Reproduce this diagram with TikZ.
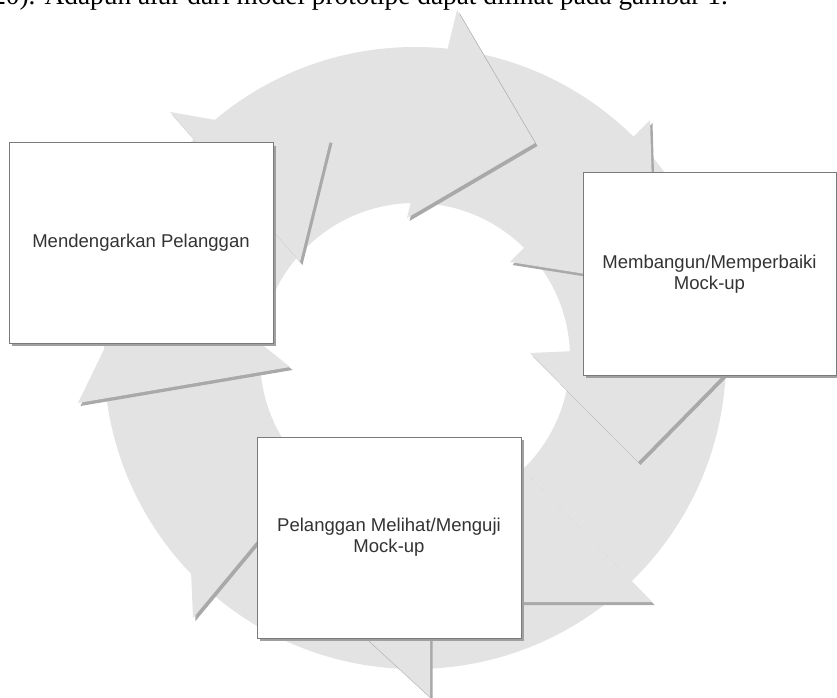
\documentclass[tikz,border=0pt]{standalone}
\usepackage{fontspec}
\setmainfont{Liberation Serif}
\newfontfamily\arialf{Liberation Sans}
\usetikzlibrary{shadows}
\definecolor{ringc}{HTML}{E3E3E3}
\definecolor{hshadow}{HTML}{A9A9A9}
\definecolor{boxline}{HTML}{7A7A7A}
\definecolor{boxshadow}{HTML}{A0A0A0}
\definecolor{txt}{HTML}{333333}
\newcommand\headarrow[3]{%
  \fill[headshadow] #1 -- #2 -- #3 -- cycle;
  \fill[headfill] #1 -- #2 -- #3 -- cycle;}
\begin{document}
\begin{tikzpicture}[x=0.75pt,y=-0.75pt,
  headshadow/.style={fill=hshadow, shift={(2.5,3)}},
  headfill/.style={fill=ringc},
  stepbox/.style={draw=boxline, line width=0.75pt, fill=white, inner sep=0pt,
    align=center, text=txt, font=\arialf\fontsize{13.9pt}{15.75pt}\selectfont,
    drop shadow={shadow xshift=2pt, shadow yshift=-2pt, fill=boxshadow, opacity=1}}]
\useasboundingbox (0,0) rectangle (837,698);
\clip (0,0) rectangle (837,698);
\fill[white] (0,0) rectangle (837,698);
\node[anchor=base west, inner sep=0pt, font=\fontsize{20.5pt}{24pt}\selectfont] (caption) at (-8,5)
  {20). Adapun alur dari model prototipe dapat dilihat pada gambar 1.};
% ring
\coordinate (ctr) at (415,358);
\fill[ringc, even odd rule] (ctr) circle[radius=233.25pt] (ctr) circle[radius=116.25pt];
% arrow heads (outer barb, tip, inner barb)
\headarrow{(457,10)}{(535,143)}{(407,218)}
\headarrow{(650,120)}{(655,285)}{(510,262)}
\headarrow{(755,343)}{(638,462)}{(530,353)}
\headarrow{(652,602)}{(490,602)}{(502,448)}
\headarrow{(430,697)}{(314,590)}{(430,483)}
\headarrow{(193,618)}{(186,452)}{(331,452)}
\headarrow{(78,403)}{(150,255)}{(290,367)}
\headarrow{(170,112)}{(330,140)}{(300,262)}
% boxes
\node[stepbox, minimum width=198pt, minimum height=150pt] (listen) at (141,243) {Mendengarkan Pelanggan};
\node[stepbox, minimum width=189.75pt, minimum height=151.5pt] (build) at (709.5,274) {Membangun/Memperbaiki\\Mock-up};
\node[stepbox, minimum width=198pt, minimum height=150.75pt] (test) at (389,537.5) {Pelanggan Melihat/Menguji\\Mock-up};
\end{tikzpicture}
\end{document}
